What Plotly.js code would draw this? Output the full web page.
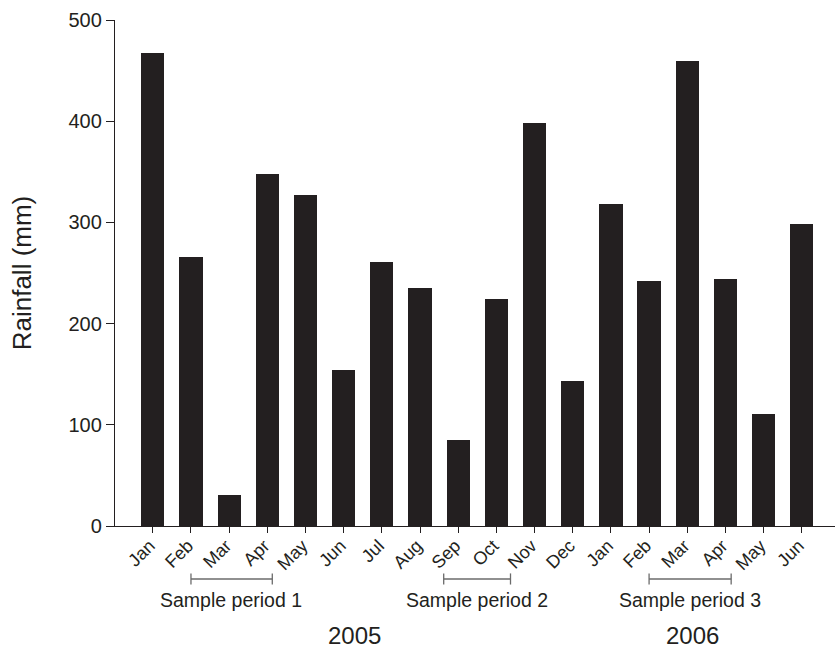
<!DOCTYPE html>
<html>
<head>
<meta charset="utf-8">
<script src="https://cdn.plot.ly/plotly-3.0.1.min.js"></script>
<style>html,body{margin:0;padding:0;background:#fff}#chart{width:835px;height:650px}</style>
</head>
<body>
<div id="chart"></div>
<script>
// Data
var months = ["Jan","Feb","Mar","Apr","May","Jun","Jul","Aug","Sep","Oct","Nov","Dec","Jan","Feb","Mar","Apr","May","Jun"];
var rainfall = [467, 266, 31, 348, 327, 154, 261, 235, 85, 224, 398, 143, 318, 242, 459, 244, 111, 298];
var periodLabels = ["Sample period 1", "Sample period 2", "Sample period 3"];
var periodStart = [1.0, 7.62, 13.0];
var periodEnd = [3.13, 9.37, 15.15];
var periodLabelX = [2.04, 8.5, 14.06];
var years = ["2005", "2006"];
var yearCenter = [5.29, 14.14];

var idx = months.map(function(_, i){ return i; });
var font = "Liberation Sans, Arial, Helvetica, sans-serif";
var ink = "#231f20";

var shapes = [];
var annotations = [];
var ys = -0.1047;
for (var p = 0; p < periodLabels.length; p++) {
  shapes.push({type:"line", xref:"x", yref:"paper", x0:periodStart[p], x1:periodEnd[p], y0:ys, y1:ys, line:{color:"#6b6b6b", width:1.3}});
  shapes.push({type:"line", xref:"x", yref:"paper", x0:periodStart[p], x1:periodStart[p], y0:ys+0.011, y1:ys-0.011, line:{color:"#6b6b6b", width:1.3}});
  shapes.push({type:"line", xref:"x", yref:"paper", x0:periodEnd[p], x1:periodEnd[p], y0:ys+0.011, y1:ys-0.011, line:{color:"#6b6b6b", width:1.3}});
  annotations.push({text:periodLabels[p], xref:"x", yref:"paper", x:periodLabelX[p], y:-0.146, showarrow:false, xanchor:"center", yanchor:"middle", font:{family:font, size:19.5, color:ink}});
}
for (var k = 0; k < years.length; k++) {
  annotations.push({text:years[k], xref:"x", yref:"paper", x:yearCenter[k], y:-0.216, showarrow:false, xanchor:"center", yanchor:"middle", font:{family:font, size:24, color:ink}});
}

var trace = {
  type:"bar",
  x: idx,
  y: rainfall,
  width: 0.61,
  marker:{color:ink, line:{width:0}},
  hoverinfo:"x+y"
};

var layout = {
  width:835, height:650,
  margin:{l:115, r:0, t:20, b:124, pad:0},
  paper_bgcolor:"#fff", plot_bgcolor:"#fff",
  showlegend:false,
  font:{family:font, color:ink},
  xaxis:{
    range:[-0.99, 17.87],
    tickmode:"array", tickvals:idx, ticktext:months,
    tickangle:-45,
    ticks:"outside", ticklen:6, tickcolor:ink, tickwidth:1,
    ticklabelstandoff:-5, ticklabelshift:-3,
    showline:true, linecolor:ink, linewidth:1.2,
    showgrid:false, zeroline:false,
    tickfont:{family:font, size:18, color:ink}
  },
  yaxis:{
    range:[0, 500],
    tickvals:[0,100,200,300,400,500],
    ticks:"outside", ticklen:8, tickcolor:ink, tickwidth:1,
    showline:true, linecolor:ink, linewidth:1.2,
    showgrid:false, zeroline:false,
    tickfont:{family:font, size:20, color:ink},
    title:{text:"Rainfall (mm)", font:{family:font, size:26, color:ink}, standoff:29}
  },
  shapes:shapes,
  annotations:annotations,
  bargap:0
};

Plotly.newPlot("chart", [trace], layout, {displayModeBar:false, staticPlot:true});
</script>
</body>
</html>
